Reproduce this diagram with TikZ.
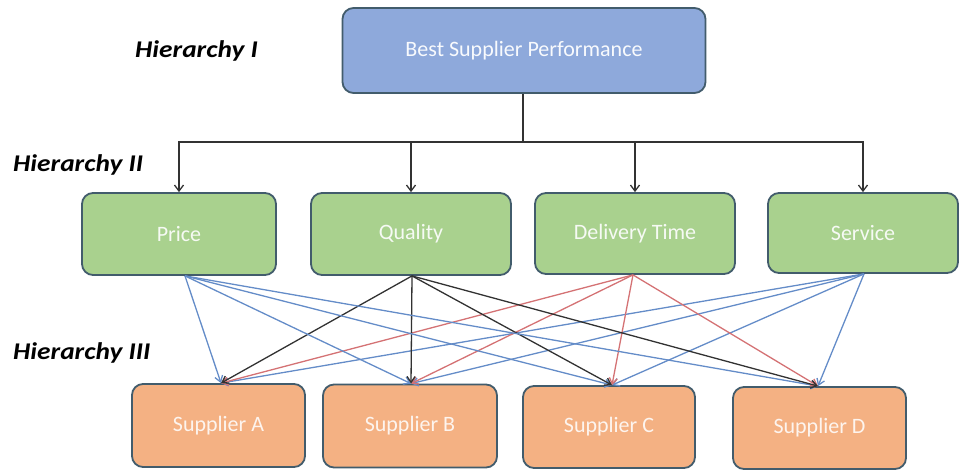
\documentclass[tikz,border=0pt]{standalone}
\usepackage{fontspec}
\setmainfont{Carlito}
\usetikzlibrary{arrows.meta}

\definecolor{topfill}{RGB}{142,169,219}
\definecolor{critfill}{RGB}{169,209,142}
\definecolor{supfill}{RGB}{244,177,131}
\definecolor{boxedge}{RGB}{66,92,108}
\definecolor{linkblue}{RGB}{100,140,200}
\definecolor{linkred}{RGB}{212,114,116}
\definecolor{linkdark}{RGB}{50,50,50}

\tikzset{
  card/.style={draw=boxedge, line width=1.8pt, rounded corners=11pt,
    font=\fontsize{22}{25}\selectfont, inner sep=0pt},
  goalbox/.style={card, fill=topfill, text=white!94!topfill},
  critbox/.style={card, fill=critfill, text=white!90!critfill},
  supbox/.style={card, fill=supfill, text=white!86!supfill},
  levellabel/.style={anchor=base west, font=\fontsize{24}{27}\selectfont\bfseries\itshape,
    inner sep=0pt, xscale=1.14, transform shape},
  tree/.style={draw=linkdark, line width=1.3pt, -{Straight Barb[length=6pt,width=9pt]}},
  link/.style={line width=1.3pt, -{Straight Barb[length=6pt,width=8pt]}},
}

\begin{document}
\begin{tikzpicture}[x=1pt,y=-1pt]
\useasboundingbox (0,0) rectangle (960,472);

% level labels
\node[levellabel] (lvlI)   at (135,57)  {Hierarchy I};
\node[levellabel] (lvlII)  at (13,171)  {Hierarchy II};
\node[levellabel] (lvlIII) at (13,359)  {Hierarchy III};

% goal
\node[goalbox, minimum width=363pt, minimum height=85pt] (goal) at (524,50.5) {Best Supplier Performance};

% criteria
\node[critbox, minimum width=194pt, minimum height=82pt] (price)    at (179,234)   {Price};
\node[critbox, minimum width=200pt, minimum height=82pt] (quality)  at (411,234)   {Quality};
\node[critbox, minimum width=200pt, minimum height=81pt] (delivery) at (635,233.5) {Delivery Time};
\node[critbox, minimum width=190pt, minimum height=80pt] (service)  at (863,233)   {Service};

% alternatives
\node[supbox, minimum width=173pt, minimum height=83pt] (supA) at (218.5,425.5) {Supplier A};
\node[supbox, minimum width=174pt, minimum height=83pt] (supB) at (410,426)     {Supplier B};
\node[supbox, minimum width=172pt, minimum height=82pt] (supC) at (609,427)     {Supplier C};
\node[supbox, minimum width=173pt, minimum height=82pt] (supD) at (819.5,428)   {Supplier D};

% goal to criteria
\coordinate (bus) at (523,142);
\draw[line width=1.3pt, draw=linkdark] (goal.south -| bus) -- (bus);
\foreach \c in {price,quality,delivery,service}
  \draw[tree] (bus) -| (\c.north);

% anchor points for the criterion-to-supplier links
\coordinate (sP) at ([xshift=6pt]price.south);
\coordinate (sQ) at ([xshift=1pt]quality.south);
\coordinate (sD) at ([xshift=-2pt]delivery.south);
\coordinate (sS) at ([xshift=1pt]service.south);
\coordinate (tA) at ([xshift=2.5pt]supA.north);
\coordinate (tB) at ([xshift=1pt]supB.north);
\coordinate (tC) at ([xshift=3pt]supC.north);
\coordinate (tD) at ([xshift=-1.5pt]supD.north);

% criteria to suppliers
\foreach \t in {tA,tB,tC,tD} {
  \draw[link, draw=linkblue] (sP) -- (\t);
  \draw[link, draw=linkblue] (sS) -- (\t);
  \draw[link, draw=linkred]  (sD) -- (\t);
  \draw[link, draw=linkdark] (sQ) -- (\t);
}
\end{tikzpicture}
\end{document}
